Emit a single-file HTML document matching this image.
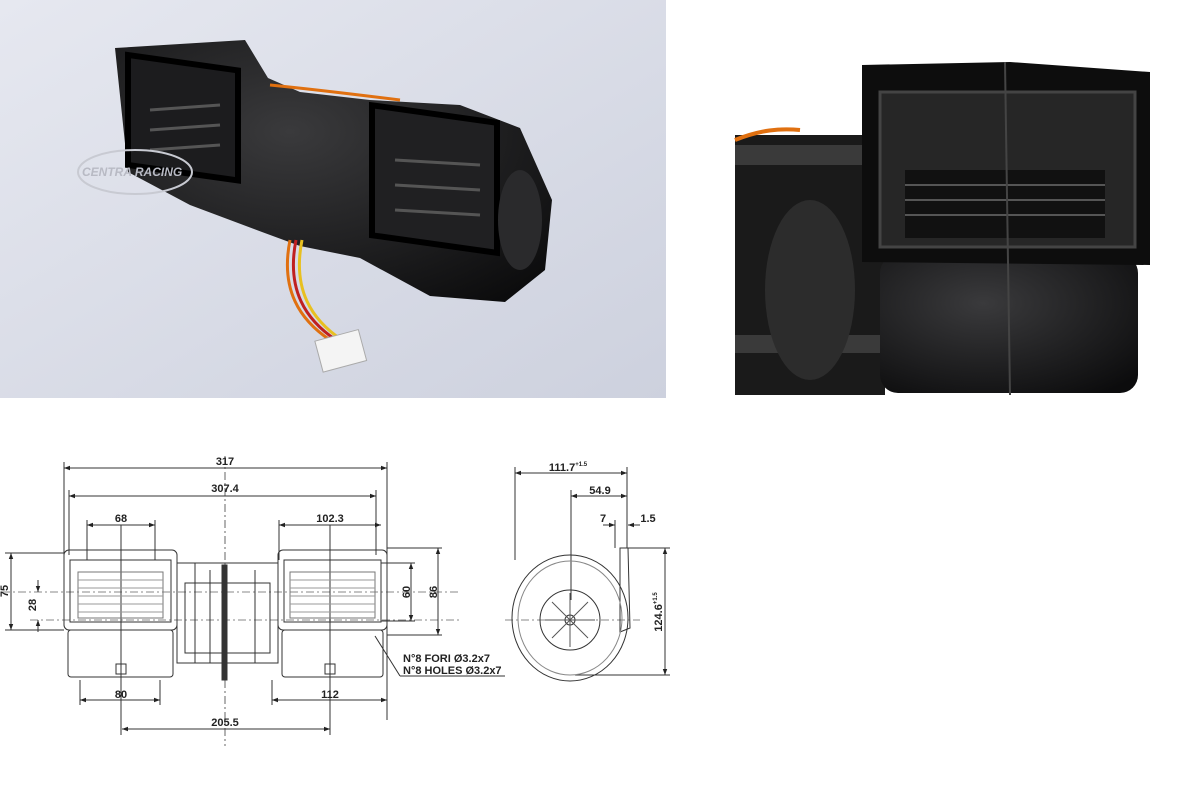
<!DOCTYPE html>
<html><head><meta charset="utf-8">
<style>
html,body{margin:0;padding:0;background:#fff;}
body{width:1189px;height:800px;overflow:hidden;position:relative;font-family:"Liberation Sans",sans-serif;}
svg{position:absolute;left:0;top:0;}
</style></head><body>
<svg width="1189" height="800" viewBox="0 0 1189 800" xmlns="http://www.w3.org/2000/svg">
<defs>
<linearGradient id="bg1" x1="0" y1="0" x2="1" y2="1">
<stop offset="0" stop-color="#e6e8f0"/><stop offset="1" stop-color="#cdd1de"/></linearGradient>
<radialGradient id="blk" cx="0.4" cy="0.35" r="0.8"><stop offset="0" stop-color="#3a3a3c"/><stop offset="1" stop-color="#0c0c0d"/></radialGradient>
<marker id="a" markerWidth="6" markerHeight="6" refX="6" refY="3" orient="auto-start-reverse"><path d="M0,0.8 L6,3 L0,5.2z" fill="#222"/></marker>
</defs>
<!-- top-left photo -->
<rect x="0" y="0" width="666" height="398" fill="url(#bg1)"/>
<polygon points="115,48 245,40 268,78 300,92 370,100 460,105 520,128 552,200 545,270 505,302 430,296 360,258 300,246 262,232 190,205 128,172" fill="url(#blk)"/>
<rect x="128" y="55" width="110" height="110" fill="#1c1c1e" stroke="#000" stroke-width="6" transform="skewY(8) translate(0,-18)"/>
<rect x="372" y="108" width="125" height="130" fill="#202022" stroke="#000" stroke-width="6" transform="skewY(8) translate(0,-55)"/>
<g stroke="#555" stroke-width="3">
<line x1="150" y1="110" x2="220" y2="105"/><line x1="150" y1="130" x2="220" y2="125"/><line x1="150" y1="150" x2="220" y2="145"/>
<line x1="395" y1="160" x2="480" y2="165"/><line x1="395" y1="185" x2="480" y2="190"/><line x1="395" y1="210" x2="480" y2="215"/>
</g>
<ellipse cx="520" cy="220" rx="22" ry="50" fill="#2a2a2c"/>
<path d="M290,240 C280,290 300,320 330,340" stroke="#e07010" stroke-width="3" fill="none"/>
<path d="M296,240 C286,290 306,320 336,340" stroke="#c02020" stroke-width="3" fill="none"/>
<path d="M302,240 C292,290 312,320 342,340" stroke="#e8c020" stroke-width="3" fill="none"/>
<path d="M270,85 C320,90 360,95 400,100" stroke="#e07010" stroke-width="3" fill="none"/>
<rect x="318" y="335" width="45" height="32" fill="#f4f4f4" stroke="#aaa" transform="rotate(-15 340 350)"/>
<ellipse cx="135" cy="172" rx="57" ry="22" fill="none" stroke="#c8cad2" stroke-width="2"/>
<text x="82" y="176" font-size="12" font-style="italic" font-weight="bold" fill="#b8bac4">CENTRA RACING</text>
<!-- top-right photo -->
<rect x="733" y="0" width="456" height="398" fill="#fff"/>
<rect x="735" y="135" width="150" height="260" fill="#1a1a1a"/>
<rect x="735" y="145" width="140" height="20" fill="#3a3a3a"/>
<rect x="735" y="335" width="150" height="18" fill="#3a3a3a"/>
<ellipse cx="810" cy="290" rx="45" ry="90" fill="#2c2c2c"/>
<path d="M735,140 C760,130 780,128 800,130" stroke="#e07010" stroke-width="4" fill="none"/>
<rect x="880" y="255" width="258" height="138" rx="18" fill="url(#blk)"/>
<polygon points="862,65 1010,62 1150,72 1150,265 862,262" fill="#0d0d0d"/>
<rect x="880" y="92" width="255" height="155" fill="#262626" stroke="#444" stroke-width="3"/>
<rect x="905" y="170" width="200" height="68" fill="#111"/>
<g stroke="#555" stroke-width="2"><line x1="905" y1="185" x2="1105" y2="185"/><line x1="905" y1="200" x2="1105" y2="200"/><line x1="905" y1="215" x2="1105" y2="215"/></g>
<line x1="1005" y1="62" x2="1010" y2="395" stroke="#444" stroke-width="2"/>
<!-- drawing -->
<g fill="none" stroke="#333" stroke-width="1">
<line x1="225" y1="456" x2="225" y2="746" stroke-dasharray="8,3,2,3" stroke="#666"/>
<line x1="2" y1="592" x2="460" y2="592" stroke-dasharray="8,3,2,3" stroke="#888"/>
<line x1="30" y1="620" x2="460" y2="620" stroke-dasharray="8,3,2,3" stroke="#888"/>
<line x1="64" y1="462" x2="64" y2="560"/><line x1="387" y1="462" x2="387" y2="720"/>
<line x1="69" y1="490" x2="69" y2="555"/><line x1="376" y1="490" x2="376" y2="555"/>
<line x1="64" y1="468" x2="387" y2="468" marker-start="url(#a)" marker-end="url(#a)"/>
<line x1="69" y1="496" x2="376" y2="496" marker-start="url(#a)" marker-end="url(#a)"/>
<line x1="87" y1="525" x2="155" y2="525" marker-start="url(#a)" marker-end="url(#a)"/>
<line x1="279" y1="525" x2="381" y2="525" marker-start="url(#a)" marker-end="url(#a)"/>
<line x1="87" y1="520" x2="87" y2="560"/><line x1="155" y1="520" x2="155" y2="560"/><line x1="279" y1="520" x2="279" y2="560"/>
<line x1="121" y1="525" x2="121" y2="735"/><line x1="330" y1="525" x2="330" y2="735"/>
<rect x="64" y="550" width="113" height="80" rx="5"/>
<rect x="70" y="560" width="101" height="62"/>
<rect x="78" y="572" width="85" height="46" stroke="#777"/>
<g stroke="#999"><line x1="78" y1="580" x2="163" y2="580"/><line x1="78" y1="588" x2="163" y2="588"/><line x1="78" y1="596" x2="163" y2="596"/><line x1="78" y1="604" x2="163" y2="604"/><line x1="78" y1="612" x2="163" y2="612"/></g>
<rect x="68" y="630" width="105" height="47" rx="3"/>
<rect x="116" y="664" width="10" height="10"/>
<rect x="278" y="550" width="109" height="80" rx="5"/>
<rect x="284" y="560" width="97" height="62"/>
<rect x="290" y="572" width="85" height="46" stroke="#777"/>
<g stroke="#999"><line x1="290" y1="580" x2="375" y2="580"/><line x1="290" y1="588" x2="375" y2="588"/><line x1="290" y1="596" x2="375" y2="596"/><line x1="290" y1="604" x2="375" y2="604"/><line x1="290" y1="612" x2="375" y2="612"/></g>
<rect x="282" y="630" width="101" height="47" rx="3"/>
<rect x="325" y="664" width="10" height="10"/>
<rect x="177" y="563" width="101" height="100"/>
<rect x="185" y="583" width="85" height="70"/>
<line x1="195" y1="563" x2="195" y2="663"/><line x1="210" y1="570" x2="210" y2="663"/><line x1="255" y1="570" x2="255" y2="663"/>
<rect x="222" y="565" width="5" height="115" fill="#333"/>
<line x1="11" y1="553" x2="11" y2="630" marker-start="url(#a)" marker-end="url(#a)"/>
<line x1="5" y1="553" x2="64" y2="553"/><line x1="5" y1="630" x2="64" y2="630"/>
<line x1="38" y1="580" x2="38" y2="592" marker-end="url(#a)"/><line x1="38" y1="632" x2="38" y2="620" marker-end="url(#a)"/>
<line x1="411" y1="563" x2="411" y2="621" marker-start="url(#a)" marker-end="url(#a)"/>
<line x1="438" y1="548" x2="438" y2="635" marker-start="url(#a)" marker-end="url(#a)"/>
<line x1="381" y1="563" x2="415" y2="563"/><line x1="381" y1="621" x2="415" y2="621"/>
<line x1="387" y1="548" x2="442" y2="548"/><line x1="387" y1="635" x2="442" y2="635"/>
<line x1="375" y1="636" x2="400" y2="676"/><line x1="400" y1="676" x2="505" y2="676"/>
<line x1="80" y1="680" x2="80" y2="705"/><line x1="160" y1="680" x2="160" y2="705"/><line x1="272" y1="680" x2="272" y2="705"/>
<line x1="80" y1="700" x2="160" y2="700" marker-start="url(#a)" marker-end="url(#a)"/>
<line x1="272" y1="700" x2="387" y2="700" marker-start="url(#a)" marker-end="url(#a)"/>
<line x1="122" y1="729" x2="330" y2="729" marker-start="url(#a)" marker-end="url(#a)"/>
<line x1="515" y1="467" x2="515" y2="560"/><line x1="627" y1="467" x2="627" y2="548"/><line x1="571" y1="490" x2="571" y2="600"/>
<line x1="515" y1="473" x2="627" y2="473" marker-start="url(#a)" marker-end="url(#a)"/>
<line x1="571" y1="496" x2="627" y2="496" marker-start="url(#a)" marker-end="url(#a)"/>
<line x1="603" y1="525" x2="615" y2="525" marker-end="url(#a)"/><line x1="640" y1="525" x2="628" y2="525" marker-end="url(#a)"/>
<line x1="615" y1="520" x2="615" y2="548"/>
<line x1="665" y1="548" x2="665" y2="675" marker-start="url(#a)" marker-end="url(#a)"/>
<line x1="627" y1="548" x2="670" y2="548"/><line x1="575" y1="675" x2="670" y2="675"/>
<line x1="505" y1="620" x2="640" y2="620" stroke-dasharray="8,3,2,3" stroke="#888"/>
<path d="M620,548 L628,548 L630,628 L620,632 Z"/>
<ellipse cx="570" cy="618" rx="58" ry="63"/>
<ellipse cx="570" cy="618" rx="52" ry="57" stroke="#888"/>
<circle cx="570" cy="620" r="30"/>
<circle cx="570" cy="620" r="5"/>
<g stroke="#555"><line x1="570" y1="593" x2="570" y2="647"/><line x1="545" y1="620" x2="595" y2="620"/><line x1="552" y1="602" x2="588" y2="638"/><line x1="588" y1="602" x2="552" y2="638"/></g>
</g>
<g font-size="11" font-weight="bold" fill="#222" text-anchor="middle" font-family="Liberation Sans Narrow, Liberation Sans, sans-serif">
<text x="225" y="465">317</text>
<text x="225" y="492">307.4</text>
<text x="121" y="522">68</text>
<text x="330" y="522">102.3</text>
<text x="121" y="698">80</text>
<text x="330" y="698">112</text>
<text x="225" y="726">205.5</text>
<text x="568" y="471">111.7<tspan font-size="6" dy="-5">+1.5</tspan></text>
<text x="600" y="494">54.9</text>
<text x="603" y="522">7</text>
<text x="648" y="522">1.5</text>
<text transform="translate(8,591) rotate(-90)">75</text>
<text transform="translate(36,605) rotate(-90)">28</text>
<text transform="translate(410,592) rotate(-90)">60</text>
<text transform="translate(437,592) rotate(-90)">86</text>
<text transform="translate(662,612) rotate(-90)">124.6<tspan font-size="6" dy="-5">+1.5</tspan></text>
<text x="403" y="662" text-anchor="start">N°8 FORI Ø3.2x7</text>
<text x="403" y="674" text-anchor="start">N°8 HOLES Ø3.2x7</text>
</g>
</svg>
</body></html>
